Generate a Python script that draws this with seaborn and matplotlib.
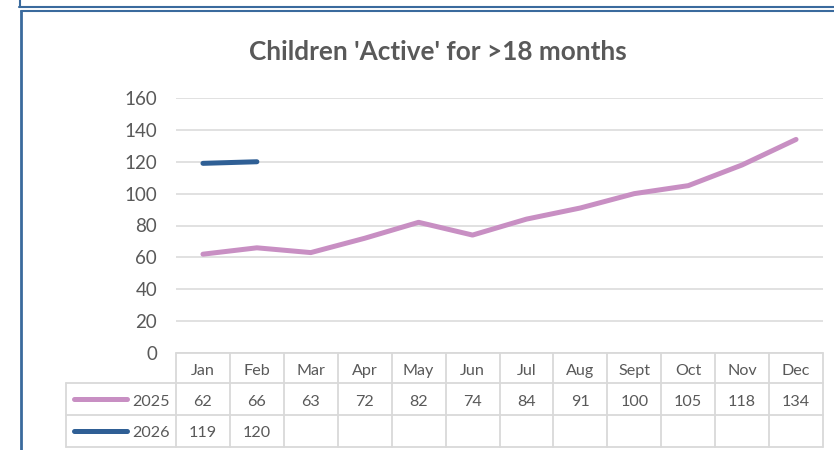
import matplotlib
matplotlib.use("Agg")
import matplotlib.pyplot as plt
from matplotlib.lines import Line2D
import seaborn as sns
import pandas as pd

months = ["Jan", "Feb", "Mar", "Apr", "May", "Jun", "Jul", "Aug", "Sept", "Oct", "Nov", "Dec"]
values_2025 = [62, 66, 63, 72, 82, 74, 84, 91, 100, 105, 118, 134]
values_2026 = [119, 120]
series_names = ["2025", "2026"]
yticks = [0, 20, 40, 60, 80, 100, 120, 140, 160]
title = "Children 'Active' for >18 months"

colors = {"2025": "#C88FC3", "2026": "#2F5F95"}
TXT = "#595959"
GRID = "#D9D9D9"
BORDER = "#3A6A9D"

rows = []
for i, v in enumerate(values_2025):
    rows.append({"idx": i, "value": v, "series": "2025"})
for i, v in enumerate(values_2026):
    rows.append({"idx": i, "value": v, "series": "2026"})
df = pd.DataFrame(rows)

sns.set_style("white")
plt.rcParams["font.family"] = ["Lato", "DejaVu Sans"]

W, H = 834, 450
fig = plt.figure(figsize=(W / 100, H / 100), dpi=100)

def fx(x):
    return x / W

def fy(y):
    return 1 - y / H

ax_l, ax_r, ax_t, ax_b = 176, 823, 98, 353
ax = fig.add_axes([fx(ax_l), fy(ax_b), fx(ax_r) - fx(ax_l), fy(ax_t) - fy(ax_b)])

sns.lineplot(data=df, x="idx", y="value", hue="series", palette=colors, ax=ax,
             linewidth=3.6, legend=False, solid_capstyle="round", sort=False)
for ln in ax.lines:
    ln.set_clip_on(False)
    ln.set_solid_capstyle("round")

ax.set_xlim(-0.5, len(months) - 0.5)
ax.set_ylim(0, 160)
ax.set_yticks(yticks)
ax.set_yticklabels([str(t) for t in yticks], fontsize=13.5, color=TXT)
ax.set_xticks([])
ax.set_xlabel("")
ax.set_ylabel("")
ax.tick_params(axis="y", length=0, pad=13.5)
ax.grid(axis="y", color=GRID, linewidth=1.1)
ax.set_axisbelow(True)
for s in ax.spines.values():
    s.set_visible(False)

# title
fig.text(fx(437.5), fy(59.5), title, ha="center", va="baseline", fontsize=18.8,
         fontweight="bold", color=TXT)

# data table
col_w = (ax_r - ax_l) / len(months)
y_head_top, y_r1, y_r2, y_bot = 353, 382.5, 414.5, 446.5
leg_l = 66
FS = 11.6

def hline(x0, x1, y, c=GRID, lw=1.3):
    fig.add_artist(Line2D([fx(x0), fx(x1)], [fy(y), fy(y)], color=c, linewidth=lw))

def vline(x, y0, y1, c=GRID, lw=1.3):
    fig.add_artist(Line2D([fx(x), fx(x)], [fy(y0), fy(y1)], color=c, linewidth=lw))

hline(ax_l, ax_r, y_head_top)
hline(leg_l, ax_r, y_r1)
hline(leg_l, ax_r, y_r2)
hline(leg_l, ax_r, y_bot)
vline(leg_l, y_r1, y_bot)
for i in range(len(months) + 1):
    vline(ax_l + i * col_w, y_head_top, y_bot)

base_head, base_r1, base_r2 = 375, 405.5, 437
for i, m in enumerate(months):
    cx = ax_l + (i + 0.5) * col_w
    fig.text(fx(cx), fy(base_head), m, ha="center", va="baseline",
             fontsize=FS, color=TXT)
    if i < len(values_2025):
        fig.text(fx(cx), fy(base_r1), str(values_2025[i]), ha="center",
                 va="baseline", fontsize=FS, color=TXT)
    if i < len(values_2026):
        fig.text(fx(cx), fy(base_r2), str(values_2026[i]), ha="center",
                 va="baseline", fontsize=FS, color=TXT)

for name, (r0, r1), base in zip(series_names, [(y_r1, y_r2), (y_r2, y_bot)], [base_r1, base_r2]):
    ym = (r0 + r1) / 2
    fig.add_artist(Line2D([fx(74), fx(127)], [fy(ym), fy(ym)], color=colors[name],
                          linewidth=3.6, solid_capstyle="round"))
    fig.text(fx(170), fy(base), name, ha="right", va="baseline", fontsize=FS, color=TXT)

# chart frame borders (screenshot edges)
fig.add_artist(Line2D([fx(19.5), fx(19.5)], [fy(0), fy(7)], color=BORDER, linewidth=1.5))
fig.add_artist(Line2D([fx(19), fx(W)], [fy(7), fy(7)], color=BORDER, linewidth=1.5))
fig.add_artist(Line2D([fx(20.5), fx(W)], [fy(10.5), fy(10.5)], color=BORDER, linewidth=1.5))
fig.add_artist(Line2D([fx(20.5), fx(20.5)], [fy(10.5), fy(H)], color=BORDER, linewidth=2))

fig.savefig("out.png", dpi=100, facecolor="white")
